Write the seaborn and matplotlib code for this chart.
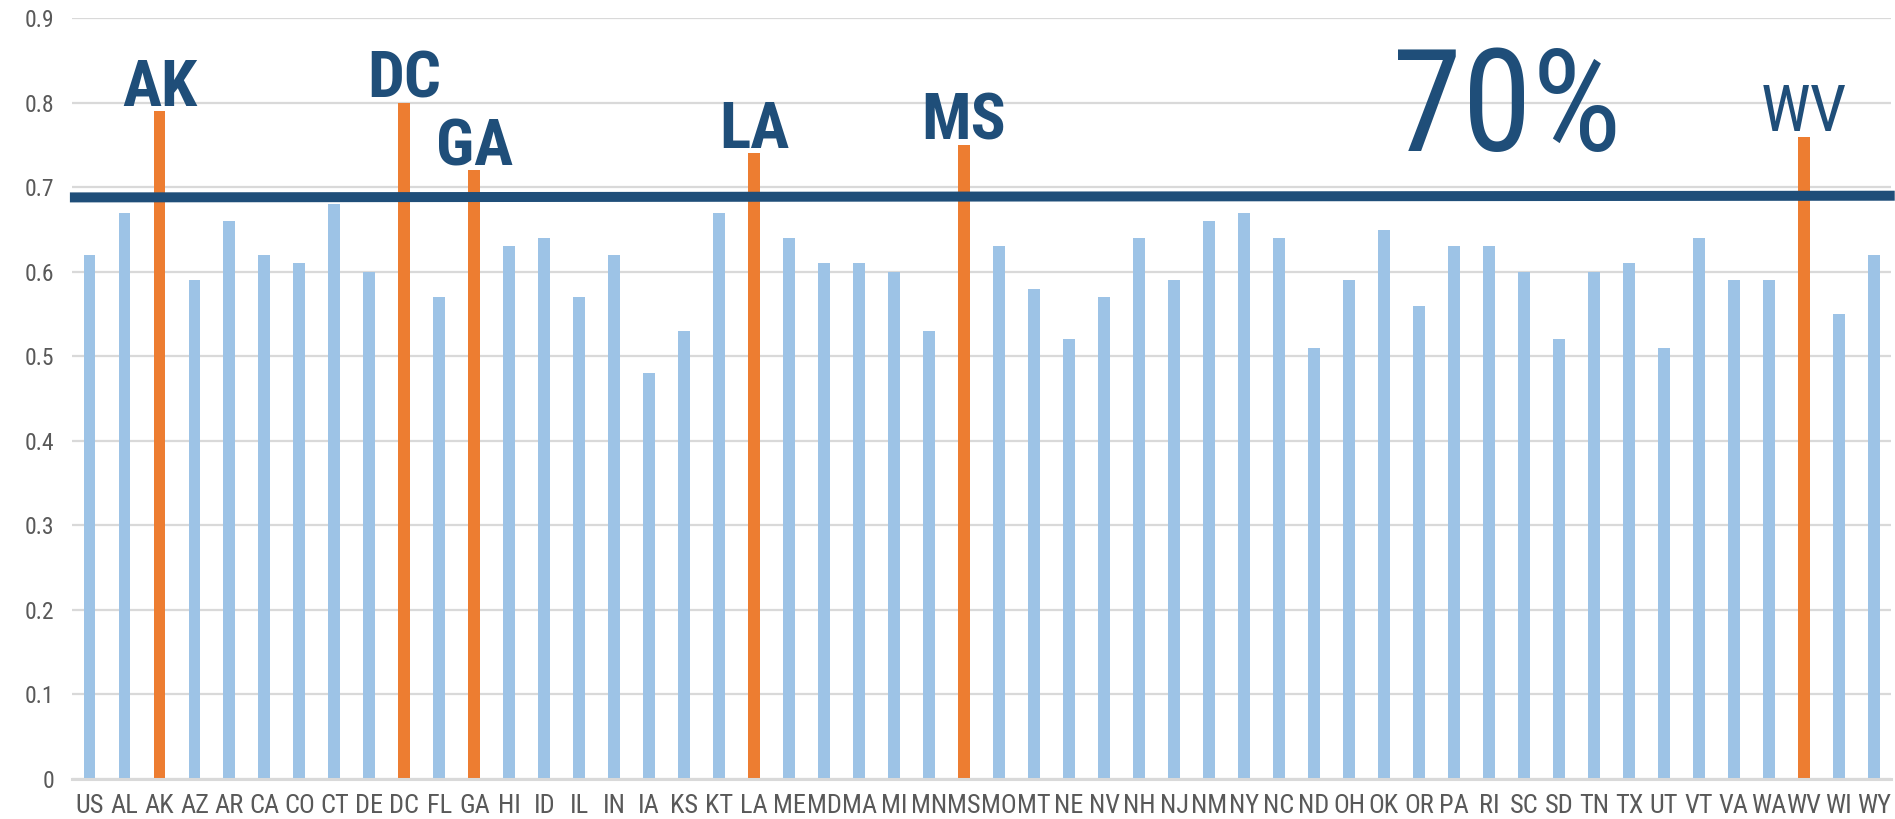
import numpy as np
import pandas as pd
import matplotlib
matplotlib.use("Agg")
import matplotlib.pyplot as plt
import matplotlib.font_manager as fm
import seaborn as sns

# Data
states = ["US", "AL", "AK", "AZ", "AR", "CA", "CO", "CT", "DE", "DC", "FL", "GA", "HI",
          "ID", "IL", "IN", "IA", "KS", "KT", "LA", "ME", "MD", "MA", "MI", "MN", "MS",
          "MO", "MT", "NE", "NV", "NH", "NJ", "NM", "NY", "NC", "ND", "OH", "OK", "OR",
          "PA", "RI", "SC", "SD", "TN", "TX", "UT", "VT", "VA", "WA", "WV", "WI", "WY"]
values = [0.62, 0.67, 0.79, 0.59, 0.66, 0.62, 0.61, 0.68, 0.60, 0.80, 0.57, 0.72, 0.63,
          0.64, 0.57, 0.62, 0.48, 0.53, 0.67, 0.74, 0.64, 0.61, 0.61, 0.60, 0.53, 0.75,
          0.63, 0.58, 0.52, 0.57, 0.64, 0.59, 0.66, 0.67, 0.64, 0.51, 0.59, 0.65, 0.56,
          0.63, 0.63, 0.60, 0.52, 0.60, 0.61, 0.51, 0.64, 0.59, 0.59, 0.76, 0.55, 0.62]
highlighted = ["AK", "DC", "GA", "LA", "MS", "WV"]
bold_labels = ["AK", "DC", "GA", "LA", "MS"]
threshold_line = [0.688, 0.690]   # left and right ends of the reference line
big_label = "70%"
big_label_y = 0.743
y_ticks = [0, 0.1, 0.2, 0.3, 0.4, 0.5, 0.6, 0.7, 0.8, 0.9]

LIGHT_BLUE = "#9DC3E6"
ORANGE = "#ED7D31"
DARK_BLUE = "#1F4E79"
GREY_TEXT = "#595959"
GRID = "#D9D9D9"

# The original uses a narrow font; pick one if installed, else shrink a bit
installed = {f.name for f in fm.fontManager.ttflist}
wanted = ["Liberation Sans Narrow", "Arial Narrow", "Roboto Condensed",
          "Open Sans Condensed", "DejaVu Sans Condensed", "Noto Sans Condensed"]
narrow = next((n for n in wanted if n in installed), None)
if narrow is None:
    extra = sorted(n for n in installed if ("Condensed" in n or "Narrow" in n)
                   and "Mono" not in n and "Serif" not in n)
    narrow = extra[0] if extra else None
shrink = 1.0 if narrow else 0.82

df = pd.DataFrame({"state": states, "value": values})
df["group"] = np.where(df["state"].isin(highlighted), "high", "normal")

sns.set_style("white")
plt.rcParams["font.family"] = ([narrow] if narrow else []) + ["Liberation Sans", "DejaVu Sans"]

fig = plt.figure(figsize=(18.95, 8.19), dpi=100)
ax = fig.add_axes([0.038, 0.0488, 0.960, 0.929])

sns.barplot(data=df, x="state", y="value", hue="group",
            palette={"high": ORANGE, "normal": LIGHT_BLUE}, saturation=1,
            dodge=False, width=0.34, legend=False, ax=ax,
            edgecolor="none", linewidth=0)

ax.set_ylim(0, 0.9)
ax.set_xlim(-0.5, len(states) - 0.5)
ax.set_yticks(y_ticks)
ax.set_yticklabels(["0" if t == 0 else f"{t:.1f}" for t in y_ticks])
ax.yaxis.grid(True, color=GRID, linewidth=1.6)
ax.set_axisbelow(True)
ax.set_xlabel("")
ax.set_ylabel("")

for side in ["left", "right", "top"]:
    ax.spines[side].set_visible(False)
ax.spines["bottom"].set_color(GRID)
ax.spines["bottom"].set_linewidth(2.2)

ax.tick_params(axis="x", length=0, pad=11, labelsize=19 * shrink, labelcolor=GREY_TEXT)
ax.tick_params(axis="y", length=0, pad=13, labelsize=17, labelcolor=GREY_TEXT)

# threshold line running across the whole plot
ax.plot([-0.56, len(states) - 0.4], threshold_line, color=DARK_BLUE,
        linewidth=7.2, solid_capstyle="butt", clip_on=False, zorder=5)

# labels over the highlighted states, sitting just above the bar tops
for st in highlighted:
    i = states.index(st)
    ax.text(i, values[i] + 0.006, st, ha="center", va="baseline",
            fontsize=47 * (shrink ** 0.5), color=DARK_BLUE,
            fontweight="bold" if st in bold_labels else "normal", zorder=6)

ax.text(states.index("RI") + 0.5, big_label_y, big_label, ha="center", va="baseline",
        fontsize=102 * (shrink ** 0.5), color=DARK_BLUE, zorder=6)

fig.savefig("out.png", dpi=100)
